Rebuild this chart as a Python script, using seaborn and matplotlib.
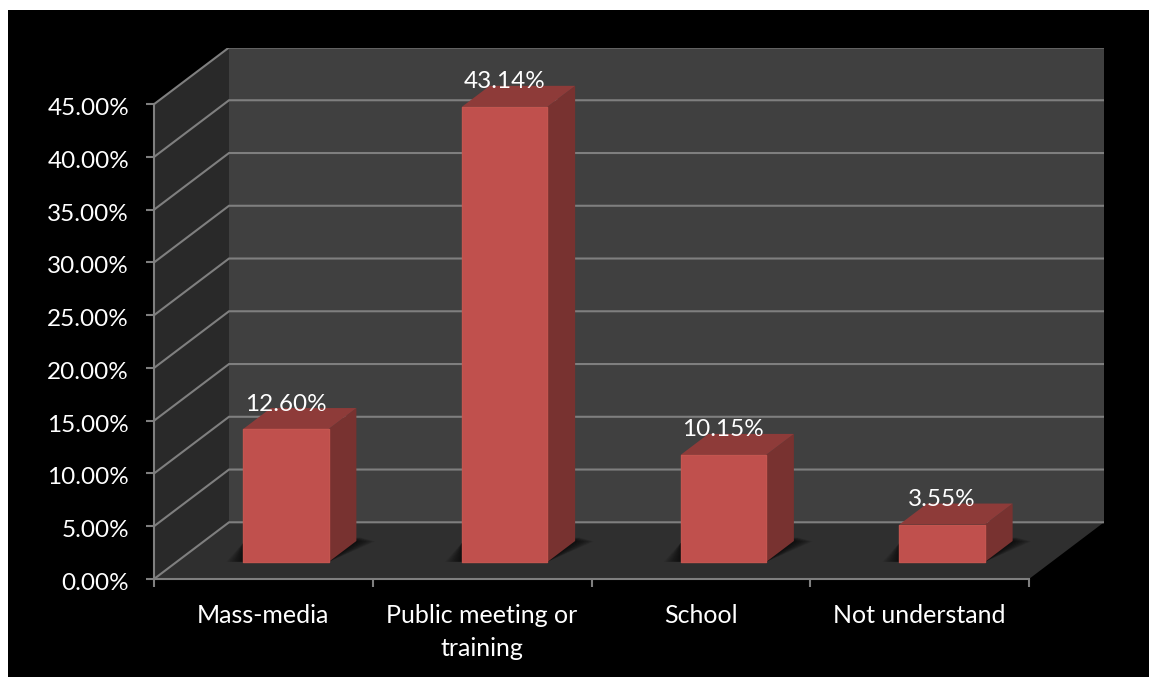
import numpy as np
import pandas as pd
import matplotlib
matplotlib.use("Agg")
import matplotlib.pyplot as plt
from matplotlib.patches import Polygon, Rectangle
from matplotlib.transforms import ScaledTranslation
import seaborn as sns

# Survey results
categories = ["Mass-media", "Public meeting or\ntraining", "School", "Not understand"]
values = [12.60, 43.14, 10.15, 3.55]
value_labels = ["12.60%", "43.14%", "10.15%", "3.55%"]
y_ticks = [0, 5, 10, 15, 20, 25, 30, 35, 40, 45]

# Canvas and plot box, in pixels
W, H = 1149, 677
LEFT, RIGHT, TOP, BOTTOM = 154, 1104, 47.5, 579
UNIT_X = 218.75
UNIT_Y = 474.7 / 45

# Oblique depth vector of the chart box, in data units
DEPTH_X = 75 / UNIT_X
DEPTH_Y = 56.7 / UNIT_Y

# Where the bars stand within the depth, and how deep they are
BAR_START = 0.30
BAR_DEPTH = 0.37
BAR_WIDTH = 85.5 / UNIT_X

FRONT = "#C0504D"
EDGE = "#C4554F"
TOP_FACE = "#8E3B39"
SIDE = "#783230"
LINE = "#7F7F7F"
FONT = ["Lato", "DejaVu Sans"]

sns.set_theme(style="white", rc={"font.family": FONT})
plt.rcParams["font.family"] = FONT

fig = plt.figure(figsize=(W / 100, H / 100), dpi=100, facecolor="white")
fig.add_artist(Rectangle((8 / W, 0), 1, 1 - 10 / H, transform=fig.transFigure,
                         facecolor="black", edgecolor="none", zorder=-5))
ax = fig.add_axes([LEFT / W, 1 - BOTTOM / H, (RIGHT - LEFT) / W, (BOTTOM - TOP) / H])
ax.patch.set_visible(False)

xmin, xmax = -0.5, 3.5
ymax = 45
ax.set_xlim(xmin, xmax + DEPTH_X)
ax.set_ylim(0, ymax + DEPTH_Y)


def poly(points, **kw):
    ax.add_patch(Polygon(points, closed=True, edgecolor="none", **kw))


# Chart box: floor, back wall, side wall
poly([(xmin, 0), (xmax, 0), (xmax + DEPTH_X, DEPTH_Y), (xmin + DEPTH_X, DEPTH_Y)],
     facecolor="#2F2F2F", zorder=0)
poly([(xmin + DEPTH_X, DEPTH_Y), (xmax + DEPTH_X, DEPTH_Y),
      (xmax + DEPTH_X, ymax + DEPTH_Y), (xmin + DEPTH_X, ymax + DEPTH_Y)],
     facecolor="#404040", zorder=0)
poly([(xmin, 0), (xmin + DEPTH_X, DEPTH_Y), (xmin + DEPTH_X, ymax + DEPTH_Y), (xmin, ymax)],
     facecolor="#292929", zorder=0)

# Gridlines run along the side wall and across the back wall
for t in y_ticks:
    ax.plot([xmin, xmin + DEPTH_X, xmax + DEPTH_X], [t, t + DEPTH_Y, t + DEPTH_Y],
            color=LINE, lw=1.5, zorder=1, solid_joinstyle="miter")

xs = np.arange(len(values), dtype=float)
offset_x = DEPTH_X * BAR_START
offset_y = DEPTH_Y * BAR_START
dx = DEPTH_X * BAR_DEPTH
dy = DEPTH_Y * BAR_DEPTH

# Soft shadow on the floor behind and beside each bar
for x in xs:
    l = x + offset_x - BAR_WIDTH / 2
    r = x + offset_x + BAR_WIDTH / 2
    for grow in np.linspace(0.085, 0.005, 12):
        poly([(l - grow * 0.9, offset_y + 0.02), (r, offset_y + 0.02),
              (r + dx + grow, offset_y + dy * 0.98),
              (r + dx + grow * 0.2, offset_y + dy * 1.0 + grow * 4),
              (l, offset_y + dy * 0.9)],
             facecolor="black", alpha=0.07, zorder=2)

# Front faces
frame = pd.DataFrame({"position": xs + offset_x, "value": values})
sns.barplot(data=frame, x="position", y="value", native_scale=True, width=BAR_WIDTH,
            color=FRONT, saturation=1, bottom=offset_y, edgecolor=EDGE, linewidth=1.0,
            errorbar=None, zorder=4, ax=ax)
for bar in ax.patches:
    bar.set_joinstyle("round")

# Top and side faces, plus the value above each bar
for x, v, text in zip(xs, values, value_labels):
    l = x + offset_x - BAR_WIDTH / 2
    r = x + offset_x + BAR_WIDTH / 2
    b = offset_y
    t = offset_y + v
    poly([(r, b), (r + dx, b + dy), (r + dx, t + dy), (r, t)], facecolor=SIDE, zorder=3)
    poly([(l, t), (r, t), (r + dx, t + dy), (l + dx, t + dy)], facecolor=TOP_FACE, zorder=3)
    ax.annotate(text, (x + offset_x, t), xytext=(0, 25 * 0.72), textcoords="offset points",
                ha="center", va="center", color="white", fontsize=17.5, zorder=6)

# Axes: ticks on the front edges only
ax.grid(False)
sns.despine(ax=ax, top=True, right=True)
for name in ("left", "bottom"):
    ax.spines[name].set_color(LINE)
    ax.spines[name].set_linewidth(1.5)
ax.spines["left"].set_bounds(0, ymax)
ax.spines["bottom"].set_bounds(xmin, xmax)

ax.set_xlabel("")
ax.set_ylabel("")
ax.set_yticks(y_ticks)
ax.set_yticklabels([f"{t:.2f}%" for t in y_ticks])
ax.tick_params(axis="y", length=6, width=1.5, color=LINE, labelcolor="white",
               labelsize=17.5, pad=12, left=True)
# Sit the value labels slightly under their ticks
nudge = ScaledTranslation(0, -2.5 / 100, fig.dpi_scale_trans)
for label in ax.get_yticklabels():
    label.set_transform(label.get_transform() + nudge)

ax.set_xticks(np.arange(xmin, xmax + 0.5))
ax.set_xticklabels([])
ax.set_xticks(xs, labels=categories, minor=True)
ax.tick_params(axis="x", which="major", length=6, width=1.5, color=LINE, bottom=True)
ax.tick_params(axis="x", which="minor", length=0, labelcolor="white", labelsize=18, pad=18)
for label in ax.get_xticklabels(minor=True):
    label.set_linespacing(1.5)

fig.savefig("out.png", dpi=100, facecolor="white")
